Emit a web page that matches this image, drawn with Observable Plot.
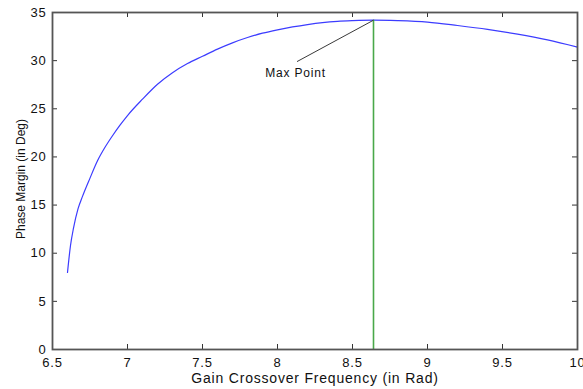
<!DOCTYPE html>
<html>
<head>
<meta charset="utf-8">
<script src="https://cdn.jsdelivr.net/npm/d3@7"></script>
<script src="https://cdn.jsdelivr.net/npm/@observablehq/plot@0.6"></script>
<style>
  html, body { margin: 0; padding: 0; background: #fff; }
  #chart svg text { letter-spacing: 0.8px; }
</style>
</head>
<body>
<div id="chart"></div>
<script>
// Curve: gain crossover frequency (rad) vs phase margin (deg)
const freq = [6.6, 6.62, 6.64, 6.67, 6.7, 6.75, 6.8, 6.85, 6.9, 6.95, 7.0, 7.1, 7.2, 7.3, 7.4, 7.5, 7.6, 7.7, 7.8, 7.9, 8.0, 8.1, 8.2, 8.3, 8.4, 8.5, 8.64, 8.8, 9.0, 9.2, 9.4, 9.6, 9.8, 10.0];
const phaseMargin = [8, 10.8, 12.6, 14.6, 15.9, 17.8, 19.6, 21.0, 22.2, 23.3, 24.3, 26.0, 27.55, 28.75, 29.7, 30.45, 31.2, 31.85, 32.4, 32.85, 33.2, 33.5, 33.75, 33.95, 34.08, 34.15, 34.2, 34.15, 34.0, 33.65, 33.25, 32.75, 32.15, 31.4];

// Max point marker and annotation
const maxPoint = [{x: 8.64, y: 34.2}];
const annotationLine = [{x1: 8.64, y1: 34.2, x2: 8.13, y2: 29.9}];
const annotationText = [{x: 8.12, y: 28.75, label: "Max Point"}];

// Axes
const xTicks = [6.5, 7, 7.5, 8, 8.5, 9, 9.5, 10];
const xTickLabels = ["6.5", "7", "7.5", "8", "8.5", "9", "9.5", "10"];
const yTicks = [0, 5, 10, 15, 20, 25, 30, 35];
const yTickLabels = ["0", "5", "10", "15", "20", "25", "30", "35"];
const xLabel = ["Gain Crossover Frequency (in Rad)"];
const yLabel = ["Phase Margin (in Deg)"];

const W = 583, H = 389, ML = 52, MR = 6, MT = 12, MB = 40, TICK = 5;
const frameW = W - ML - MR, frameH = H - MT - MB;

const chart = Plot.plot({
  width: W,
  height: H,
  marginLeft: ML,
  marginRight: MR,
  marginTop: MT,
  marginBottom: MB,
  x: {domain: [6.5, 10], axis: null},
  y: {domain: [0, 35], axis: null},
  style: {fontFamily: "'Liberation Sans', Arial, sans-serif", fontSize: "13px", color: "#111", background: "#fff", overflow: "visible"},
  marks: [
    Plot.line(freq, {x: freq, y: phaseMargin, stroke: "#3c3cff", strokeWidth: 1.2, curve: "monotone-x"}),
    Plot.ruleX(maxPoint, {x: "x", y1: 0, y2: "y", stroke: "#4aa84a", strokeWidth: 1.6}),
    Plot.link(annotationLine, {x1: "x1", y1: "y1", x2: "x2", y2: "y2", stroke: "#222", strokeWidth: 0.9}),
    Plot.text(annotationText, {x: "x", y: "y", text: "label", fontSize: 12, fill: "#111"}),
    // tick marks (inside the box)
    Plot.tickX(xTicks, {x: d => d, insetTop: frameH - TICK, stroke: "#333"}),
    Plot.tickX(xTicks, {x: d => d, insetBottom: frameH - TICK, stroke: "#333"}),
    Plot.tickY(yTicks, {y: d => d, insetRight: frameW - TICK, stroke: "#333"}),
    Plot.tickY(yTicks, {y: d => d, insetLeft: frameW - TICK, stroke: "#333"}),
    // tick labels
    Plot.axisX(xTicks, {anchor: "bottom", tickSize: 0, tickPadding: 8, label: null, tickFormat: d => xTickLabels[xTicks.indexOf(d)]}),
    Plot.axisY(yTicks, {anchor: "left", tickSize: 0, tickPadding: 6, label: null, tickFormat: d => yTickLabels[yTicks.indexOf(d)]}),
    // axis titles
    Plot.text(xLabel, {frameAnchor: "bottom", dy: 29, text: d => d, fontSize: 14, lineAnchor: "middle"}),
    Plot.text(yLabel, {frameAnchor: "left", rotate: -90, dx: -31, dy: -2, text: d => d, fontSize: 12, textAnchor: "middle", lineAnchor: "middle"})
    ,
    Plot.frame({stroke: "#555", strokeWidth: 1.8})
  ]
});
d3.select(chart).selectAll("text")
  .filter(function() { return this.textContent === yLabel[0]; })
  .style("letter-spacing", "0px");
document.getElementById("chart").appendChild(chart);
</script>
</body>
</html>
